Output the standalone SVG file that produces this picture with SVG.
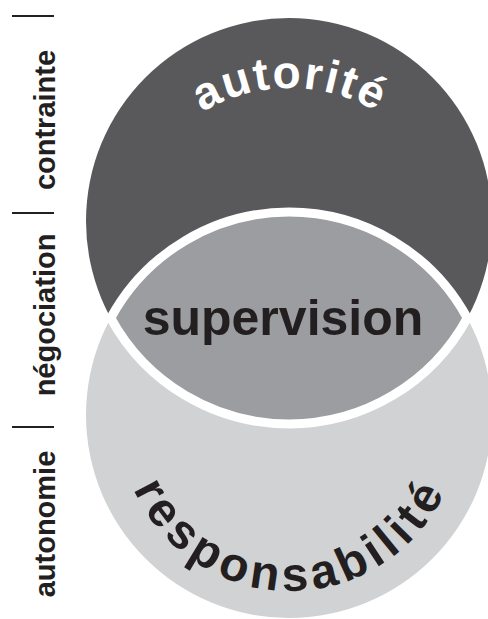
<svg xmlns="http://www.w3.org/2000/svg" width="488" height="619" viewBox="0 0 488 619">
  <style>
    .side { font-family: "Liberation Sans", Arial, sans-serif; font-weight: bold; font-size: 29px; fill: #231f20; }
    .bar { stroke: #231f20; stroke-width: 2; }
    .big { font-family: "Liberation Sans", Arial, sans-serif; font-weight: bold; }
  </style>
  <defs>
    <path id="arcTop" d="M 120 258 A 170 170 0 0 1 460 258"/>
    <path id="arcBottom" d="M 119 420 A 171 171 0 0 0 461 420"/>
  </defs>
  <rect width="488" height="619" fill="#ffffff"/>

  <g id="scale">
    <line class="bar" x1="12" y1="16" x2="54" y2="16"/>
    <line class="bar" x1="12" y1="213" x2="54" y2="213"/>
    <line class="bar" x1="12" y1="427" x2="54" y2="427"/>
    <text class="side" transform="translate(55,120) rotate(-90)" text-anchor="middle">contrainte</text>
    <text class="side" transform="translate(55,315) rotate(-90)" text-anchor="middle">négociation</text>
    <text class="side" transform="translate(55,524) rotate(-90)" text-anchor="middle">autonomie</text>
  </g>

  <g id="autorite">
    <circle cx="289" cy="221" r="203" fill="#59595b"/>
  </g>
  <g id="responsabilite">
    <circle cx="289" cy="415" r="203" fill="#d1d2d4"/>
  </g>
  <g id="supervision">
    <path d="M 110.7 318 A 203 203 0 0 1 467.3 318 A 203 203 0 0 1 110.7 318 Z" fill="#9c9da0" stroke="#ffffff" stroke-width="9" stroke-linejoin="miter"/>
    <text class="big" x="283" y="335" font-size="50" fill="#231f20" text-anchor="middle">supervision</text>
  </g>

  <g id="labels">
    <text class="big" font-size="46" fill="#ffffff" letter-spacing="2"><textPath href="#arcTop" startOffset="50%" text-anchor="middle">autorité</textPath></text>
    <text class="big" font-size="48" fill="#231f20" letter-spacing="5"><textPath href="#arcBottom" startOffset="50%" text-anchor="middle">responsabilité</textPath></text>
  </g>

  <g id="connectors"></g>
</svg>
